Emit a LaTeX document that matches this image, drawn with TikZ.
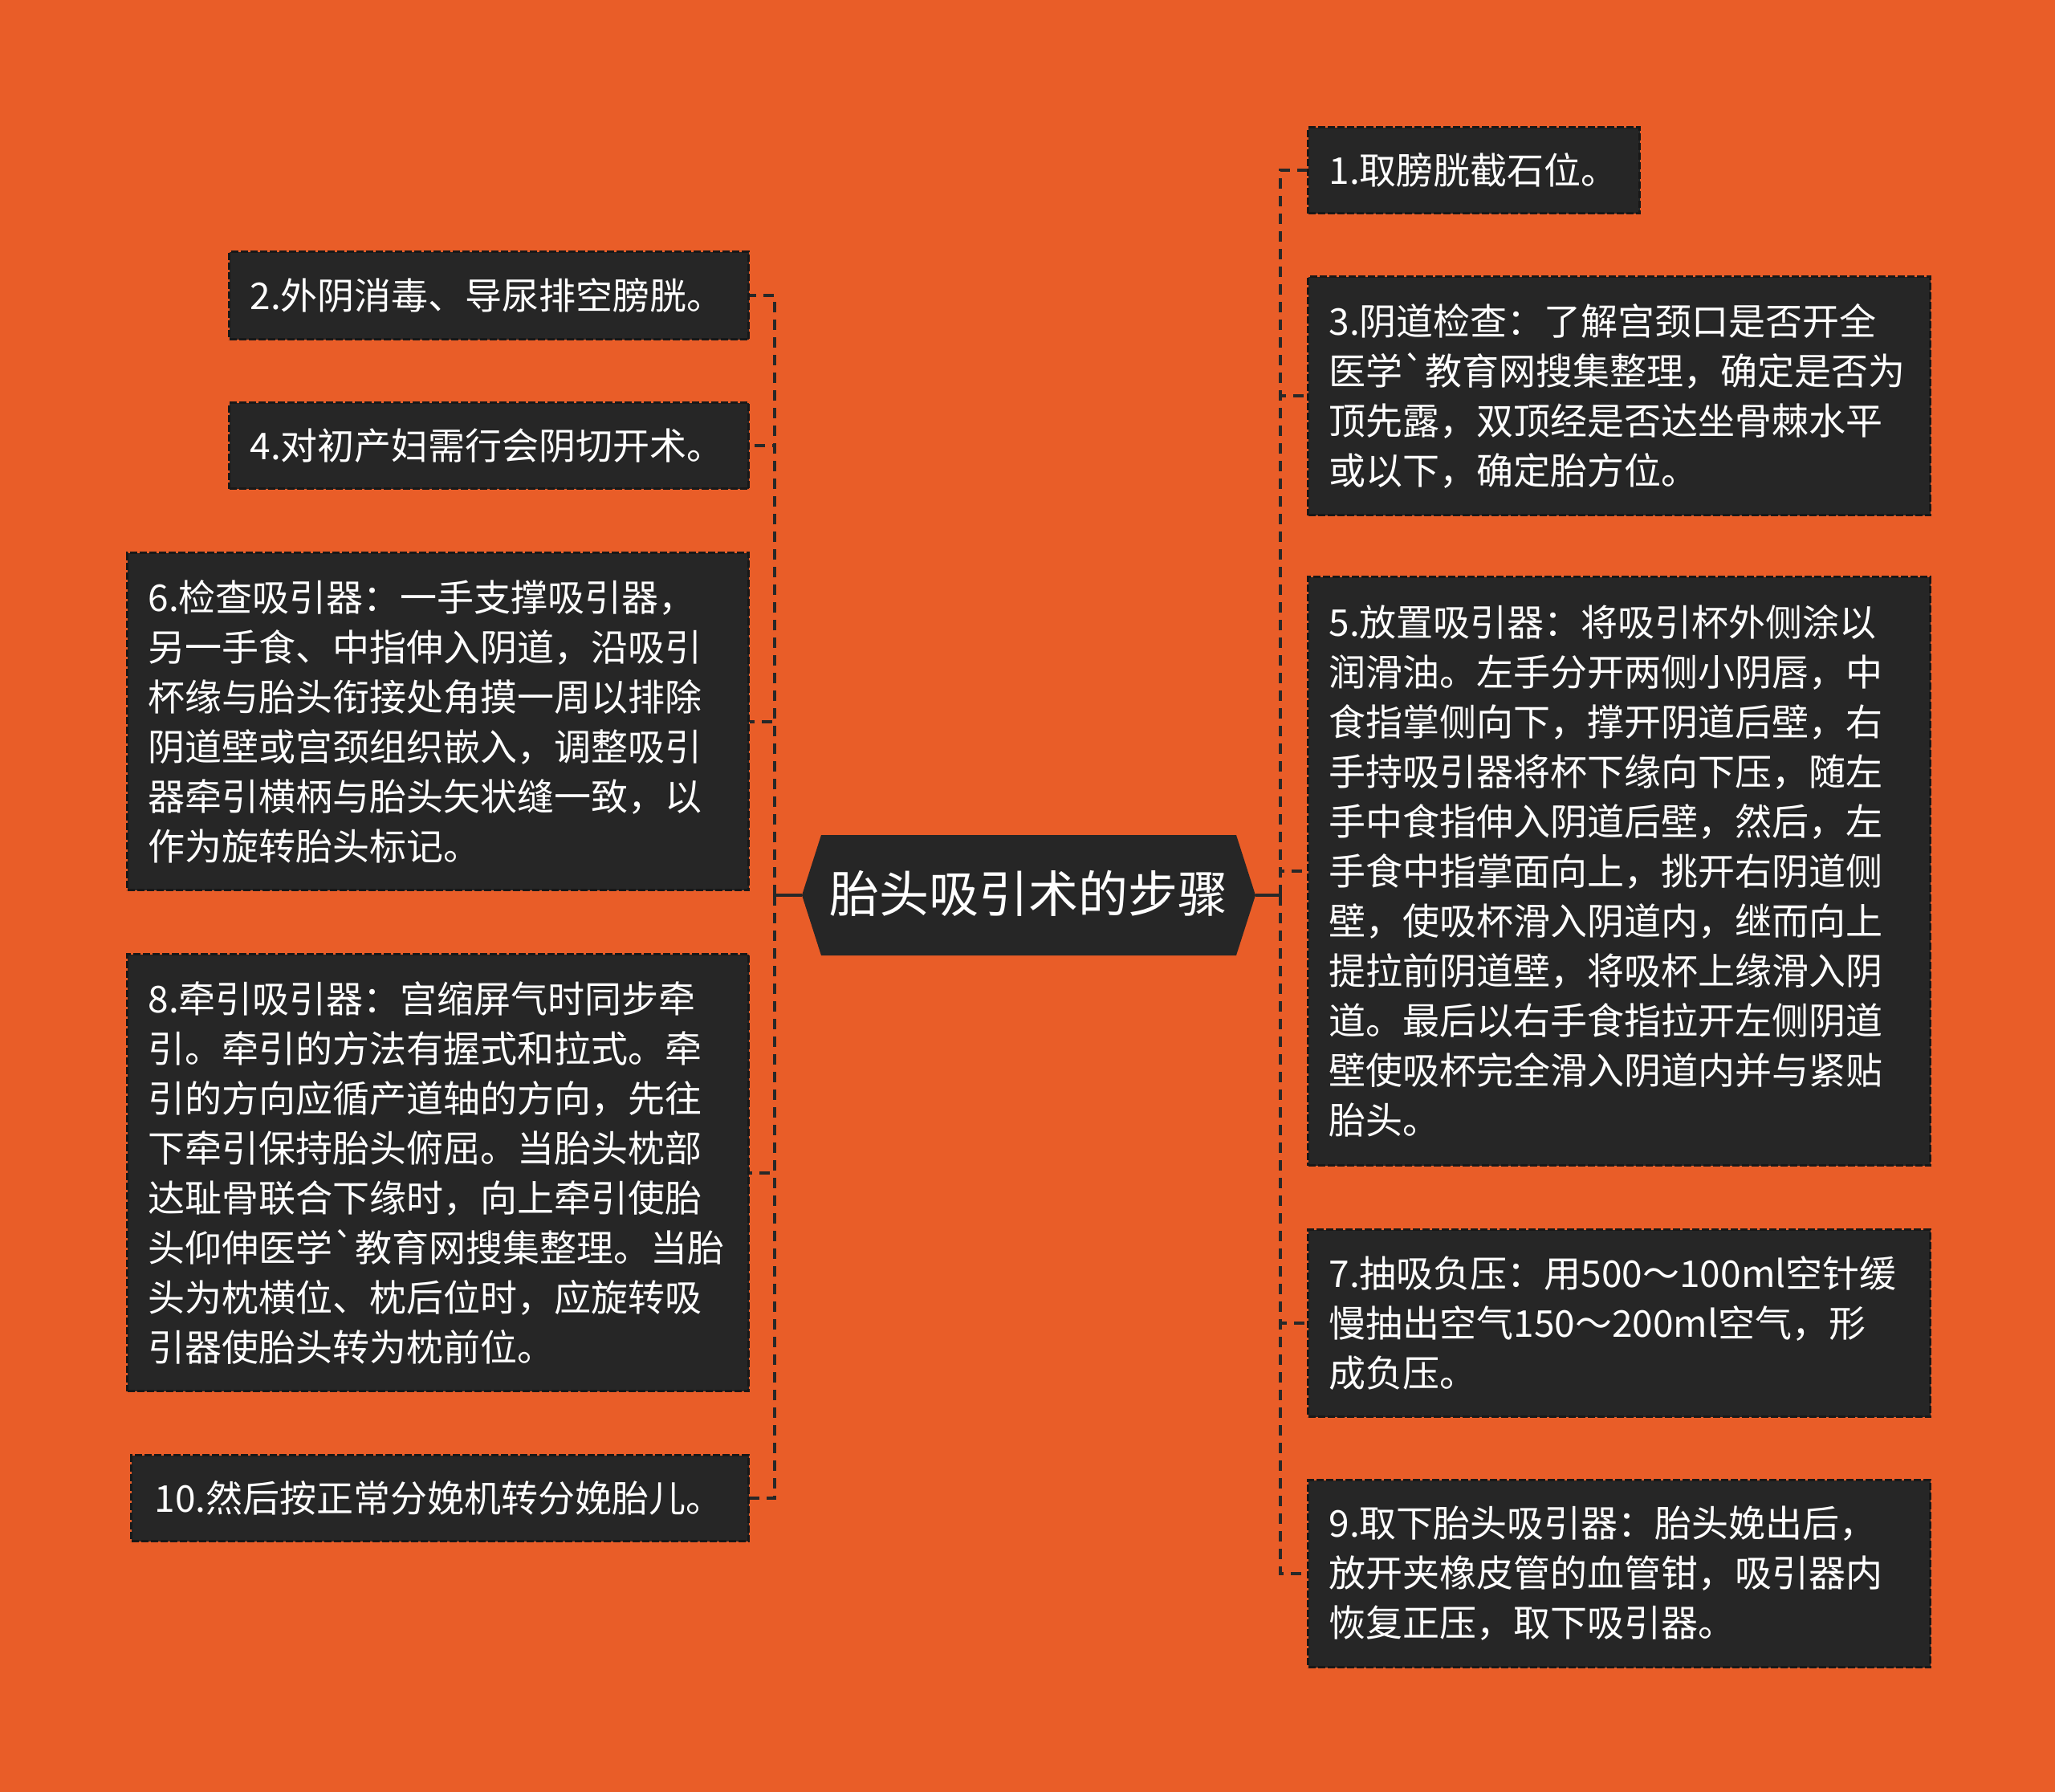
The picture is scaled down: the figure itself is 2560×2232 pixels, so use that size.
\documentclass[tikz,border=0pt]{standalone}
\usepackage{fontspec}
\setmainfont{Noto Sans CJK SC}[Ligatures=TeXOff]
\definecolor{bgc}{RGB}{233,93,40}
\definecolor{boxc}{RGB}{38,38,38}
\definecolor{edgec}{RGB}{24,24,24}
\definecolor{linec}{RGB}{40,40,40}
\begin{document}
\begin{tikzpicture}[x=1pt,y=-1pt,
  itembox/.style={anchor=north west, rectangle, fill=boxc, draw=edgec, line width=3pt,
    dash pattern=on 9pt off 3pt, text=white, align=left, inner xsep=26pt, inner ysep=0pt,
    font=\fontsize{46}{62}\selectfont},
  stubline/.style={draw=linec, line width=4.5pt},
  trunk/.style={draw=linec, line width=4pt, dash pattern=on 13pt off 9pt}]
\fill[bgc] (0,0) rectangle (2560,2232);
\useasboundingbox (0,0) rectangle (2560,2232);
% centre
\fill[boxc] (999,1115) -- (1023,1040) -- (1540,1040) -- (1564,1115) -- (1540,1190) -- (1023,1190) -- cycle;
\coordinate (hl) at (999,1115);
\coordinate (hr) at (1564,1115);
\node[text=white, font=\fontsize{62}{70}\selectfont] (c) at (1281,1113) {胎头吸引术的步骤};
\coordinate (lt) at (965,1115);
\coordinate (rt) at (1595,1115);
% right boxes
\node[itembox, text width=361, minimum height=107] (b1) at (1628,157) {1.取膀胱截石位。};
\node[itembox, text width=723, minimum height=297] (b3) at (1628,343) {3.阴道检查：了解宫颈口是否开全\\医学`教育网搜集整理，确定是否为\\顶先露，双顶经是否达坐骨棘水平\\或以下，确定胎方位。};
\node[itembox, text width=723, minimum height=733] (b5) at (1628,717) {5.放置吸引器：将吸引杯外侧涂以\\润滑油。左手分开两侧小阴唇，中\\食指掌侧向下，撑开阴道后壁，右\\手持吸引器将杯下缘向下压，随左\\手中食指伸入阴道后壁，然后，左\\手食中指掌面向上，挑开右阴道侧\\壁，使吸杯滑入阴道内，继而向上\\提拉前阴道壁，将吸杯上缘滑入阴\\道。最后以右手食指拉开左侧阴道\\壁使吸杯完全滑入阴道内并与紧贴\\胎头。};
\node[itembox, text width=723, minimum height=233] (b7) at (1628,1530) {7.抽吸负压：用500～100ml空针缓\\慢抽出空气150～200ml空气，形\\成负压。};
\node[itembox, text width=723, minimum height=233] (b9) at (1628,1842) {9.取下胎头吸引器：胎头娩出后，\\放开夹橡皮管的血管钳，吸引器内\\恢复正压，取下吸引器。};
% left boxes
\node[itembox, text width=595, minimum height=109] (b2) at (284,312) {2.外阴消毒、导尿排空膀胱。};
\node[itembox, text width=595, minimum height=107] (b4) at (284,500) {4.对初产妇需行会阴切开术。};
\node[itembox, text width=722, minimum height=420] (b6) at (157,687) {6.检查吸引器：一手支撑吸引器，\\另一手食、中指伸入阴道，沿吸引\\杯缘与胎头衔接处角摸一周以排除\\阴道壁或宫颈组织嵌入，调整吸引\\器牵引横柄与胎头矢状缝一致，以\\作为旋转胎头标记。};
\node[itembox, text width=722, minimum height=544] (b8) at (157,1187) {8.牵引吸引器：宫缩屏气时同步牵\\引。牵引的方法有握式和拉式。牵\\引的方向应循产道轴的方向，先往\\下牵引保持胎头俯屈。当胎头枕部\\达耻骨联合下缘时，向上牵引使胎\\头仰伸医学`教育网搜集整理。当胎\\头为枕横位、枕后位时，应旋转吸\\引器使胎头转为枕前位。};
\node[itembox, text width=711, inner xsep=29pt, minimum height=107] (b10) at (162,1811) {10.然后按正常分娩机转分娩胎儿。};
% connectors
\draw[stubline] (hr) -- (rt);
\draw[stubline] (hl) -- (lt);
\foreach \b in {b1,b3,b5,b7,b9} \draw[trunk] (rt) |- (\b.west);
\foreach \b in {b2,b4,b6,b8,b10} \draw[trunk] (lt) |- (\b.east);
\end{tikzpicture}
\end{document}
